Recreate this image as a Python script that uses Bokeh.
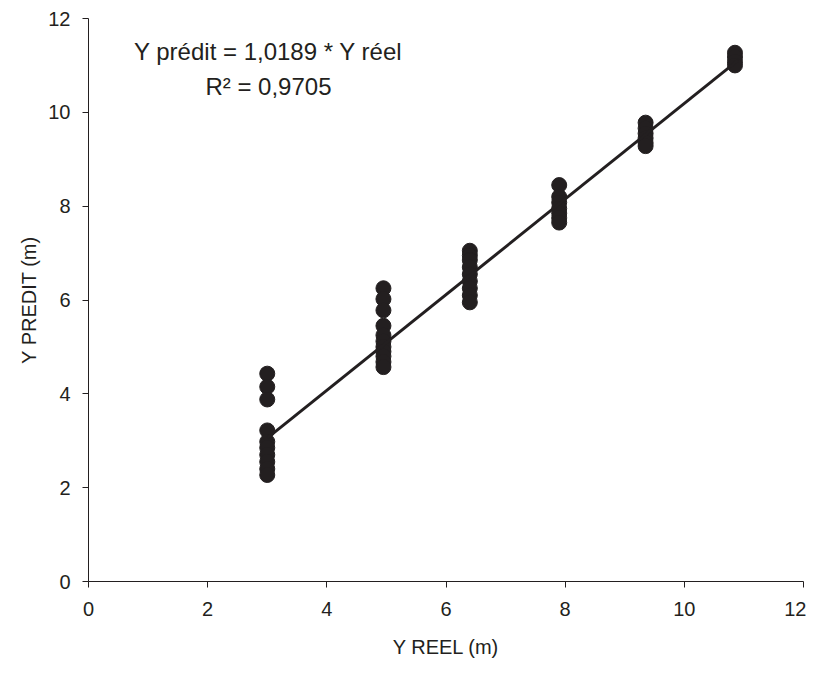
from bokeh.plotting import figure
from bokeh.models import Range1d, Label, FixedTicker
from bokeh.embed import file_html
from bokeh.resources import INLINE

x_levels = [3.0, 4.95, 6.4, 7.9, 9.35, 10.85]
pred_3 = [4.43, 4.15, 3.88, 3.22, 2.98, 2.85, 2.70, 2.55, 2.40, 2.27]
pred_5 = [6.25, 6.02, 5.78, 5.45, 5.25, 5.12, 5.00, 4.90, 4.80, 4.68, 4.57]
pred_6_4 = [7.05, 6.95, 6.85, 6.70, 6.55, 6.40, 6.25, 6.10, 5.95]
pred_7_9 = [8.45, 8.20, 8.08, 7.95, 7.85, 7.75, 7.65]
pred_9_4 = [9.78, 9.66, 9.55, 9.45, 9.35, 9.28]
pred_10_9 = [11.27, 11.18, 11.08, 11.00]
groups = [pred_3, pred_5, pred_6_4, pred_7_9, pred_9_4, pred_10_9]

slope = 1.0189
line_x = [3.0, 10.9]
x_ticks = [0, 2, 4, 6, 8, 10, 12]
y_ticks = [0, 2, 4, 6, 8, 10, 12]

FONT = "Liberation Sans"
INK = "#231f20"

p = figure(width=806, height=680, output_backend="svg", toolbar_location=None,
           x_range=Range1d(0, 12), y_range=Range1d(0, 12),
           min_border_left=88, min_border_right=3, min_border_top=18, min_border_bottom=99)
p.outline_line_color = None
p.xgrid.visible = False
p.ygrid.visible = False
p.background_fill_color = "white"
p.border_fill_color = "white"

xs, ys = [], []
for xv, g in zip(x_levels, groups):
    for v in g:
        xs.append(xv)
        ys.append(v)
p.scatter(xs, ys, size=15, color=INK, line_color=INK)

p.line(line_x, [slope * v for v in line_x], line_width=3, color=INK)

for ax, ticks in ((p.xaxis, x_ticks), (p.yaxis, y_ticks)):
    ax.ticker = FixedTicker(ticks=ticks)
    ax.minor_tick_line_color = None
    ax.major_tick_in = 0
    ax.major_tick_out = 6
    ax.axis_line_color = INK
    ax.major_tick_line_color = INK
    ax.major_label_text_font = FONT
    ax.major_label_text_font_size = "20px"
    ax.major_label_text_color = INK
    ax.axis_label_text_font = FONT
    ax.axis_label_text_font_size = "20px"
    ax.axis_label_text_font_style = "normal"
    ax.axis_label_text_color = INK

p.xaxis.axis_label = "Y REEL (m)"
p.yaxis.axis_label = "Y PREDIT (m)"
p.xaxis.major_label_standoff = 14
p.xaxis.axis_label_standoff = 17
p.yaxis.major_label_standoff = 12
p.yaxis.axis_label_standoff = 5

p.add_layout(Label(x=3.02, y=11.3, text="Y prédit = 1,0189 * Y réel", text_font=FONT,
                   text_font_size="24px", text_color=INK, text_align="center",
                   text_baseline="middle"))
p.add_layout(Label(x=3.02, y=10.55, text="R² = 0,9705", text_font=FONT,
                   text_font_size="24px", text_color=INK, text_align="center",
                   text_baseline="middle"))

open("out.html", "w").write(file_html(p, INLINE))
